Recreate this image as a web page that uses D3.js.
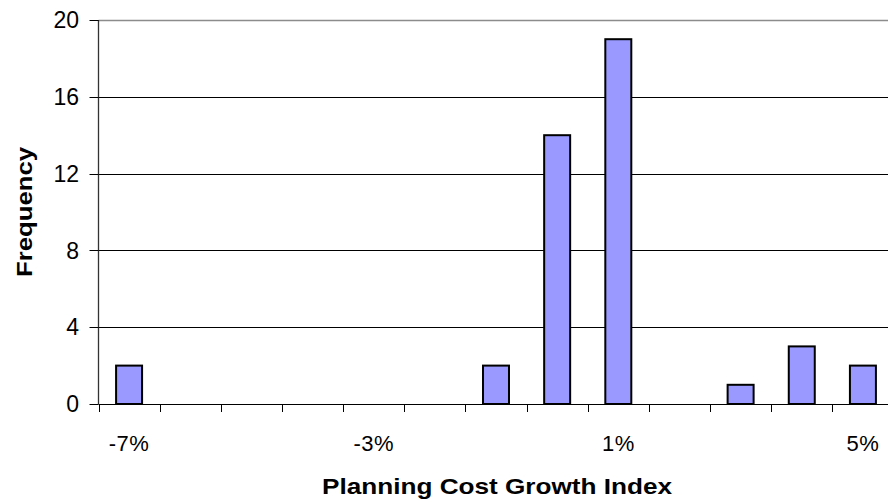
<!DOCTYPE html>
<html>
<head>
<meta charset="utf-8">
<script src="https://cdn.jsdelivr.net/npm/d3@7"></script>
<style>
  html, body { margin: 0; padding: 0; background: #fff; overflow: hidden; }
  svg { display: block; font-family: Arial, "Liberation Sans", sans-serif; }
</style>
</head>
<body>
<div id="chart"></div>
<script>
const categories = ['-7%', '-6%', '-5%', '-4%', '-3%', '-2%', '-1%', '0%', '1%', '2%', '3%', '4%', '5%'];
const frequencies = [2, 0, 0, 0, 0, 0, 2, 14, 19, 0, 1, 3, 2];
const labelledCategories = ['-7%', '-3%', '1%', '5%'];
const yTicks = [0, 4, 8, 12, 16, 20];

const width = 888;
const height = 502;
const margin = { top: 20, left: 98.5, bottom: 98, right: -5.5 };

const svg = d3.select('#chart')
  .append('svg')
  .attr('width', width)
  .attr('height', height);

const x = d3.scaleBand()
  .domain(categories)
  .range([margin.left, width - margin.right])
  .paddingInner(0.575)
  .paddingOuter(0.2875);

const y = d3.scaleLinear()
  .domain([0, 20])
  .range([height - margin.bottom, margin.top]);

const step = x.step();
const x0 = margin.left;

// Gridlines
svg.append('g')
  .selectAll('line')
  .data(yTicks.filter((d) => d > 0))
  .join('line')
  .attr('x1', x0)
  .attr('x2', width)
  .attr('y1', (d) => Math.round(y(d)) + 0.5)
  .attr('y2', (d) => Math.round(y(d)) + 0.5)
  .attr('stroke', (d) => (d === 20 ? '#8c8c8c' : '#000'))
  .attr('stroke-width', (d) => (d === 20 ? 1.5 : 1));

// Bars
svg.append('g')
  .selectAll('rect')
  .data(categories.map((c, i) => ({ c, v: frequencies[i] })).filter((d) => d.v > 0))
  .join('rect')
  .attr('x', (d) => x(d.c))
  .attr('y', (d) => y(d.v))
  .attr('width', x.bandwidth())
  .attr('height', (d) => y(0) - y(d.v))
  .attr('fill', '#9999ff')
  .attr('stroke', '#000')
  .attr('stroke-width', 2);

// Y axis
const yAxis = svg.append('g');
yAxis.append('line')
  .attr('x1', x0).attr('x2', x0)
  .attr('y1', y(20)).attr('y2', y(0))
  .attr('stroke', '#333').attr('stroke-width', 1.3);
yAxis.selectAll('.ytick')
  .data(yTicks)
  .join('line')
  .attr('x1', x0 - 9).attr('x2', x0)
  .attr('y1', (d) => Math.round(y(d)) + 0.5)
  .attr('y2', (d) => Math.round(y(d)) + 0.5)
  .attr('stroke', '#000');
yAxis.selectAll('text')
  .data(yTicks)
  .join('text')
  .attr('x', 79)
  .attr('y', (d) => y(d))
  .attr('dy', '0.36em')
  .attr('text-anchor', 'end')
  .attr('font-size', 23)
  .text((d) => d);

// X axis
const xAxis = svg.append('g');
xAxis.append('line')
  .attr('x1', x0).attr('x2', width)
  .attr('y1', y(0) + 0.5).attr('y2', y(0) + 0.5)
  .attr('stroke', '#000');
xAxis.selectAll('.xtick')
  .data(d3.range(categories.length + 1))
  .join('line')
  .attr('x1', (i) => Math.round(x0 + i * step) + 0.5)
  .attr('x2', (i) => Math.round(x0 + i * step) + 0.5)
  .attr('y1', y(0))
  .attr('y2', y(0) + 8)
  .attr('stroke', '#000');
xAxis.selectAll('text')
  .data(labelledCategories)
  .join('text')
  .attr('x', (d) => x(d) + x.bandwidth() / 2)
  .attr('y', 451)
  .attr('text-anchor', 'middle')
  .attr('font-size', 22)
  .attr('letter-spacing', 0.5)
  .text((d) => d);

// Axis titles
svg.append('text')
  .attr('x', 497)
  .attr('y', 494)
  .attr('text-anchor', 'middle')
  .attr('font-size', 22)
  .attr('font-weight', 'bold')
  .attr('textLength', 350)
  .attr('lengthAdjust', 'spacingAndGlyphs')
  .text('Planning Cost Growth Index');

svg.append('text')
  .attr('transform', 'translate(32,212) rotate(-90)')
  .attr('text-anchor', 'middle')
  .attr('font-size', 22)
  .attr('font-weight', 'bold')
  .attr('textLength', 130)
  .attr('lengthAdjust', 'spacingAndGlyphs')
  .text('Frequency');
</script>
</body>
</html>
